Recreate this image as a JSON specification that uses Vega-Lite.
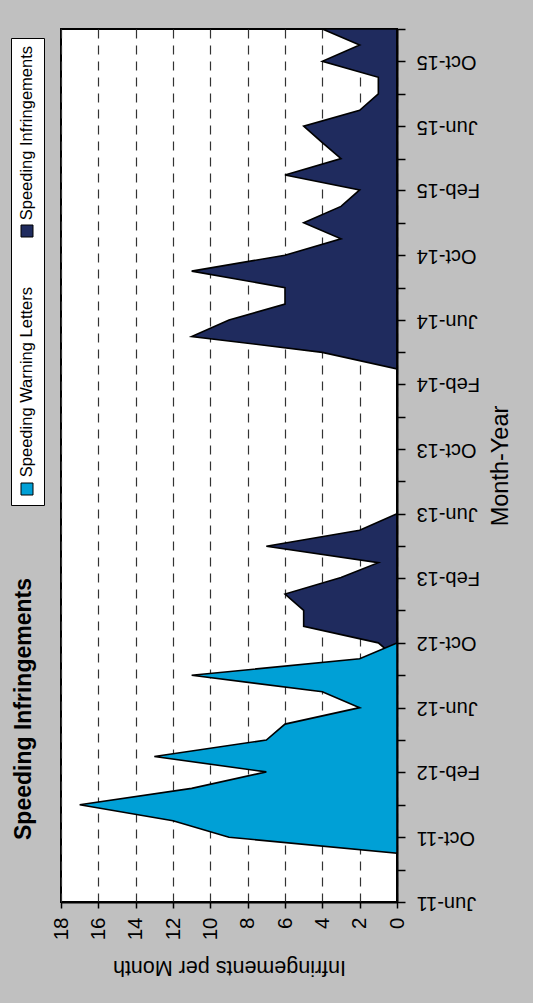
{
  "$schema": "https://vega.github.io/schema/vega-lite/v6.json",
  "autosize": "none",
  "width": 336,
  "height": 873,
  "padding": {"left": 61, "top": 29, "right": 136, "bottom": 101},
  "background": "#c0c0c0",
  "config": {
    "font": "Liberation Sans",
    "view": {"fill": "white", "stroke": "black", "strokeWidth": 2}
  },
  "title": {
    "text": "Speeding Infringements",
    "orient": "left",
    "anchor": "start",
    "frame": "group",
    "dx": 62,
    "offset": -25,
    "fontSize": 23,
    "fontWeight": "bold",
    "color": "black"
  },
  "data": {
    "values": [
      {"date": "2011-06-01T00:00", "series": "Speeding Warning Letters", "value": 0},
      {"date": "2011-07-01T00:00", "series": "Speeding Warning Letters", "value": 0},
      {"date": "2011-08-01T00:00", "series": "Speeding Warning Letters", "value": 0},
      {"date": "2011-09-01T00:00", "series": "Speeding Warning Letters", "value": 0},
      {"date": "2011-10-01T00:00", "series": "Speeding Warning Letters", "value": 9},
      {"date": "2011-11-01T00:00", "series": "Speeding Warning Letters", "value": 12},
      {"date": "2011-12-01T00:00", "series": "Speeding Warning Letters", "value": 17},
      {"date": "2012-01-01T00:00", "series": "Speeding Warning Letters", "value": 11},
      {"date": "2012-02-01T00:00", "series": "Speeding Warning Letters", "value": 7},
      {"date": "2012-03-01T00:00", "series": "Speeding Warning Letters", "value": 13},
      {"date": "2012-04-01T00:00", "series": "Speeding Warning Letters", "value": 7},
      {"date": "2012-05-01T00:00", "series": "Speeding Warning Letters", "value": 6},
      {"date": "2012-06-01T00:00", "series": "Speeding Warning Letters", "value": 2},
      {"date": "2012-07-01T00:00", "series": "Speeding Warning Letters", "value": 4},
      {"date": "2012-08-01T00:00", "series": "Speeding Warning Letters", "value": 11},
      {"date": "2012-09-01T00:00", "series": "Speeding Warning Letters", "value": 2},
      {"date": "2012-10-01T00:00", "series": "Speeding Warning Letters", "value": 0},
      {"date": "2012-11-01T00:00", "series": "Speeding Warning Letters", "value": 0},
      {"date": "2012-12-01T00:00", "series": "Speeding Warning Letters", "value": 0},
      {"date": "2013-01-01T00:00", "series": "Speeding Warning Letters", "value": 0},
      {"date": "2013-02-01T00:00", "series": "Speeding Warning Letters", "value": 0},
      {"date": "2013-03-01T00:00", "series": "Speeding Warning Letters", "value": 0},
      {"date": "2013-04-01T00:00", "series": "Speeding Warning Letters", "value": 0},
      {"date": "2013-05-01T00:00", "series": "Speeding Warning Letters", "value": 0},
      {"date": "2013-06-01T00:00", "series": "Speeding Warning Letters", "value": 0},
      {"date": "2013-07-01T00:00", "series": "Speeding Warning Letters", "value": 0},
      {"date": "2013-08-01T00:00", "series": "Speeding Warning Letters", "value": 0},
      {"date": "2013-09-01T00:00", "series": "Speeding Warning Letters", "value": 0},
      {"date": "2013-10-01T00:00", "series": "Speeding Warning Letters", "value": 0},
      {"date": "2013-11-01T00:00", "series": "Speeding Warning Letters", "value": 0},
      {"date": "2013-12-01T00:00", "series": "Speeding Warning Letters", "value": 0},
      {"date": "2014-01-01T00:00", "series": "Speeding Warning Letters", "value": 0},
      {"date": "2014-02-01T00:00", "series": "Speeding Warning Letters", "value": 0},
      {"date": "2014-03-01T00:00", "series": "Speeding Warning Letters", "value": 0},
      {"date": "2014-04-01T00:00", "series": "Speeding Warning Letters", "value": 0},
      {"date": "2014-05-01T00:00", "series": "Speeding Warning Letters", "value": 0},
      {"date": "2014-06-01T00:00", "series": "Speeding Warning Letters", "value": 0},
      {"date": "2014-07-01T00:00", "series": "Speeding Warning Letters", "value": 0},
      {"date": "2014-08-01T00:00", "series": "Speeding Warning Letters", "value": 0},
      {"date": "2014-09-01T00:00", "series": "Speeding Warning Letters", "value": 0},
      {"date": "2014-10-01T00:00", "series": "Speeding Warning Letters", "value": 0},
      {"date": "2014-11-01T00:00", "series": "Speeding Warning Letters", "value": 0},
      {"date": "2014-12-01T00:00", "series": "Speeding Warning Letters", "value": 0},
      {"date": "2015-01-01T00:00", "series": "Speeding Warning Letters", "value": 0},
      {"date": "2015-02-01T00:00", "series": "Speeding Warning Letters", "value": 0},
      {"date": "2015-03-01T00:00", "series": "Speeding Warning Letters", "value": 0},
      {"date": "2015-04-01T00:00", "series": "Speeding Warning Letters", "value": 0},
      {"date": "2015-05-01T00:00", "series": "Speeding Warning Letters", "value": 0},
      {"date": "2015-06-01T00:00", "series": "Speeding Warning Letters", "value": 0},
      {"date": "2015-07-01T00:00", "series": "Speeding Warning Letters", "value": 0},
      {"date": "2015-08-01T00:00", "series": "Speeding Warning Letters", "value": 0},
      {"date": "2015-09-01T00:00", "series": "Speeding Warning Letters", "value": 0},
      {"date": "2015-10-01T00:00", "series": "Speeding Warning Letters", "value": 0},
      {"date": "2015-11-01T00:00", "series": "Speeding Warning Letters", "value": 0},
      {"date": "2015-12-01T00:00", "series": "Speeding Warning Letters", "value": 0},
      {"date": "2011-06-01T00:00", "series": "Speeding Infringements", "value": 0},
      {"date": "2011-07-01T00:00", "series": "Speeding Infringements", "value": 0},
      {"date": "2011-08-01T00:00", "series": "Speeding Infringements", "value": 0},
      {"date": "2011-09-01T00:00", "series": "Speeding Infringements", "value": 0},
      {"date": "2011-10-01T00:00", "series": "Speeding Infringements", "value": 0},
      {"date": "2011-11-01T00:00", "series": "Speeding Infringements", "value": 0},
      {"date": "2011-12-01T00:00", "series": "Speeding Infringements", "value": 0},
      {"date": "2012-01-01T00:00", "series": "Speeding Infringements", "value": 0},
      {"date": "2012-02-01T00:00", "series": "Speeding Infringements", "value": 0},
      {"date": "2012-03-01T00:00", "series": "Speeding Infringements", "value": 0},
      {"date": "2012-04-01T00:00", "series": "Speeding Infringements", "value": 0},
      {"date": "2012-05-01T00:00", "series": "Speeding Infringements", "value": 0},
      {"date": "2012-06-01T00:00", "series": "Speeding Infringements", "value": 0},
      {"date": "2012-07-01T00:00", "series": "Speeding Infringements", "value": 0},
      {"date": "2012-08-01T00:00", "series": "Speeding Infringements", "value": 0},
      {"date": "2012-09-01T00:00", "series": "Speeding Infringements", "value": 0},
      {"date": "2012-10-01T00:00", "series": "Speeding Infringements", "value": 1},
      {"date": "2012-11-01T00:00", "series": "Speeding Infringements", "value": 5},
      {"date": "2012-12-01T00:00", "series": "Speeding Infringements", "value": 5},
      {"date": "2013-01-01T00:00", "series": "Speeding Infringements", "value": 6},
      {"date": "2013-02-01T00:00", "series": "Speeding Infringements", "value": 3},
      {"date": "2013-03-01T00:00", "series": "Speeding Infringements", "value": 1},
      {"date": "2013-04-01T00:00", "series": "Speeding Infringements", "value": 7},
      {"date": "2013-05-01T00:00", "series": "Speeding Infringements", "value": 2},
      {"date": "2013-06-01T00:00", "series": "Speeding Infringements", "value": 0},
      {"date": "2013-07-01T00:00", "series": "Speeding Infringements", "value": 0},
      {"date": "2013-08-01T00:00", "series": "Speeding Infringements", "value": 0},
      {"date": "2013-09-01T00:00", "series": "Speeding Infringements", "value": 0},
      {"date": "2013-10-01T00:00", "series": "Speeding Infringements", "value": 0},
      {"date": "2013-11-01T00:00", "series": "Speeding Infringements", "value": 0},
      {"date": "2013-12-01T00:00", "series": "Speeding Infringements", "value": 0},
      {"date": "2014-01-01T00:00", "series": "Speeding Infringements", "value": 0},
      {"date": "2014-02-01T00:00", "series": "Speeding Infringements", "value": 0},
      {"date": "2014-03-01T00:00", "series": "Speeding Infringements", "value": 0},
      {"date": "2014-04-01T00:00", "series": "Speeding Infringements", "value": 4},
      {"date": "2014-05-01T00:00", "series": "Speeding Infringements", "value": 11},
      {"date": "2014-06-01T00:00", "series": "Speeding Infringements", "value": 9},
      {"date": "2014-07-01T00:00", "series": "Speeding Infringements", "value": 6},
      {"date": "2014-08-01T00:00", "series": "Speeding Infringements", "value": 6},
      {"date": "2014-09-01T00:00", "series": "Speeding Infringements", "value": 11},
      {"date": "2014-10-01T00:00", "series": "Speeding Infringements", "value": 6},
      {"date": "2014-11-01T00:00", "series": "Speeding Infringements", "value": 3},
      {"date": "2014-12-01T00:00", "series": "Speeding Infringements", "value": 5},
      {"date": "2015-01-01T00:00", "series": "Speeding Infringements", "value": 3},
      {"date": "2015-02-01T00:00", "series": "Speeding Infringements", "value": 2},
      {"date": "2015-03-01T00:00", "series": "Speeding Infringements", "value": 6},
      {"date": "2015-04-01T00:00", "series": "Speeding Infringements", "value": 3},
      {"date": "2015-05-01T00:00", "series": "Speeding Infringements", "value": 4},
      {"date": "2015-06-01T00:00", "series": "Speeding Infringements", "value": 5},
      {"date": "2015-07-01T00:00", "series": "Speeding Infringements", "value": 2},
      {"date": "2015-08-01T00:00", "series": "Speeding Infringements", "value": 1},
      {"date": "2015-09-01T00:00", "series": "Speeding Infringements", "value": 1},
      {"date": "2015-10-01T00:00", "series": "Speeding Infringements", "value": 4},
      {"date": "2015-11-01T00:00", "series": "Speeding Infringements", "value": 2},
      {"date": "2015-12-01T00:00", "series": "Speeding Infringements", "value": 4}
    ]
  },
  "encoding": {
    "y": {
      "field": "date",
      "type": "temporal",
      "scale": {
        "domain": [{"year": 2011, "month": 6, "date": 1}, {"year": 2015, "month": 12, "date": 1}],
        "nice": false
      },
      "axis": {
        "orient": "right",
        "values": [
          {"year": 2011, "month": 6, "date": 1}, {"year": 2011, "month": 8, "date": 1},
          {"year": 2011, "month": 10, "date": 1}, {"year": 2011, "month": 12, "date": 1},
          {"year": 2012, "month": 2, "date": 1}, {"year": 2012, "month": 4, "date": 1},
          {"year": 2012, "month": 6, "date": 1}, {"year": 2012, "month": 8, "date": 1},
          {"year": 2012, "month": 10, "date": 1}, {"year": 2012, "month": 12, "date": 1},
          {"year": 2013, "month": 2, "date": 1}, {"year": 2013, "month": 4, "date": 1},
          {"year": 2013, "month": 6, "date": 1}, {"year": 2013, "month": 8, "date": 1},
          {"year": 2013, "month": 10, "date": 1}, {"year": 2013, "month": 12, "date": 1},
          {"year": 2014, "month": 2, "date": 1}, {"year": 2014, "month": 4, "date": 1},
          {"year": 2014, "month": 6, "date": 1}, {"year": 2014, "month": 8, "date": 1},
          {"year": 2014, "month": 10, "date": 1}, {"year": 2014, "month": 12, "date": 1},
          {"year": 2015, "month": 2, "date": 1}, {"year": 2015, "month": 4, "date": 1},
          {"year": 2015, "month": 6, "date": 1}, {"year": 2015, "month": 8, "date": 1},
          {"year": 2015, "month": 10, "date": 1}, {"year": 2015, "month": 12, "date": 1}
        ],
        "labelExpr": "month(datum.value) % 4 == 1 ? timeFormat(datum.value, '%b-%y') : ''",
        "labelAngle": 180,
        "labelAlign": "right",
        "labelBaseline": "middle",
        "labelFontSize": 20,
        "labelColor": "black",
        "labelPadding": 11,
        "labelOverlap": false,
        "labelFlush": false,
        "tickSize": 8,
        "tickColor": "black",
        "tickWidth": 1.5,
        "domainColor": "black",
        "domainWidth": 2,
        "grid": false,
        "title": "Month-Year",
        "titleAngle": 270,
        "titleFontSize": 23.5,
        "titleFontWeight": "normal",
        "titleColor": "black",
        "titlePadding": 33
      }
    },
    "x": {
      "field": "value",
      "type": "quantitative",
      "stack": null,
      "scale": {"domain": [0, 18], "reverse": true, "nice": false},
      "axis": {
        "orient": "bottom",
        "values": [0, 2, 4, 6, 8, 10, 12, 14, 16, 18],
        "labelAngle": 270,
        "labelAlign": "right",
        "labelBaseline": "middle",
        "labelFontSize": 20.5,
        "labelColor": "black",
        "labelPadding": 9,
        "labelFlush": false,
        "labelOverlap": false,
        "tickSize": 6,
        "tickColor": "black",
        "tickWidth": 1.5,
        "domainColor": "black",
        "domainWidth": 2,
        "grid": true,
        "gridDash": [9, 7],
        "gridColor": "#333333",
        "gridWidth": 1.2,
        "title": "Infringements per Month",
        "titleAngle": 180,
        "titleBaseline": "bottom",
        "titleFontSize": 21.5,
        "titleFontWeight": "normal",
        "titleColor": "black",
        "titlePadding": 16
      }
    },
    "color": {
      "field": "series",
      "type": "nominal",
      "scale": {
        "domain": ["Speeding Infringements", "Speeding Warning Letters"],
        "range": ["#1f2b5e", "#00a0d6"]
      },
      "legend": {
        "orient": "none",
        "legendX": -50,
        "legendY": 9,
        "direction": "vertical",
        "title": null,
        "fillColor": "white",
        "strokeColor": "black",
        "padding": 8,
        "symbolType": "square",
        "symbolSize": 144,
        "symbolStrokeColor": "black",
        "symbolStrokeWidth": 1,
        "symbolOpacity": 1,
        "labelFontSize": 16.5,
        "labelColor": "black",
        "labelLimit": 0,
        "rowPadding": 48,
        "encode": {
          "labels": {
            "update": {
              "angle": {"value": -90},
              "align": {"value": "right"},
              "baseline": {"value": "middle"},
              "x": {"value": 8},
              "y": {"value": 0}
            }
          },
          "symbols": {
            "update": {
              "x": {"value": 8},
              "y": {"signal": "datum.value === 'Speeding Infringements' ? 185 : 202"}
            }
          }
        }
      }
    }
  },
  "layer": [
    {
      "transform": [{"filter": "datum.series == 'Speeding Infringements'"}],
      "mark": {"type": "area", "stroke": "black", "strokeWidth": 1.6, "strokeJoin": "miter", "opacity": 1}
    },
    {
      "transform": [{"filter": "datum.series == 'Speeding Warning Letters'"}],
      "mark": {"type": "area", "stroke": "black", "strokeWidth": 1.6, "strokeJoin": "miter", "opacity": 1}
    }
  ]
}
